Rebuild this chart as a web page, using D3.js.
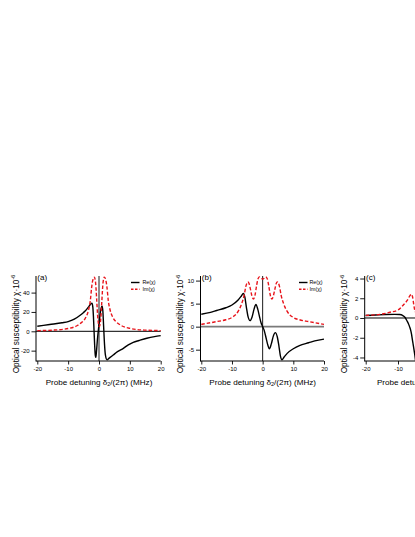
<!DOCTYPE html>
<html><head><meta charset="utf-8">
<script src="https://cdn.jsdelivr.net/npm/d3@7"></script>
<style>
body{margin:0;background:#fff}
svg{display:block;background:#fff}
text{font-family:"Liberation Sans",Arial,Helvetica,sans-serif;fill:#000}
</style>
</head><body><svg id="chart" width="415" height="537"></svg>
<script>
// ---------- data ----------
const xTickValues = [-20, -10, 0, 10, 20];
const yTicksA = [-20, 0, 20, 40];
const yTicksB = [-5, 0, 5, 10];
const yTicksC = [-4, -2, 0, 2, 4];
const panelLabels = ["(a)", "(b)", "(c)"];
const legendLabels = ["Re(\u03C7)", "Im(\u03C7)"];

// panel (a)
const reA_x = [-20,-16,-12,-10,-8,-6,-5,-4,-3.2,-2.6,-2.3,-2.0,-1.8,-1.6,-1.4,-1.2,-1.05,-0.85,-0.5,-0.1,0.3,0.7,1.0,1.25,1.5,1.8,2.1,2.6,3.2,4,4.6,6,7.9,9.5,11.1,13,15.5,18,20];
const reA_y = [5.2,7,8.8,10,12.5,16.8,19.5,22.7,26,28.5,29,25,15,0,-15,-25,-27,-22,-8,4,16,24,26,21,5,-14,-25,-29.5,-28,-26,-24.5,-21,-17.6,-14,-11.4,-9.5,-7.2,-5.5,-4.5];
const imA_x = [-20,-15,-10,-7,-5.5,-4.4,-3.4,-2.8,-2.4,-2.0,-1.5,-1.1,-0.7,-0.4,-0.1,0.1,0.3,0.6,0.9,1.3,1.7,2.2,2.6,3.0,3.6,4.6,5.7,7.2,10.2,15,20];
const imA_y = [0.7,1.2,2.9,6,9.5,13.7,22,32,45,53,56,50,30,14,6.5,5,6.5,14,30,50,56,53,45,32,22,13.7,9.5,6,2.9,1.2,0.7];

// panel (b)
const reB_x = [-20,-17,-15,-12,-10,-8,-7,-6.3,-5.8,-5.3,-4.8,-4.1,-3.5,-2.8,-2.2,-1.6,-1.1,-0.5,0,0.5,1.1,1.6,2.2,2.8,3.5,4.1,4.8,5.3,5.8,6.3,7,8,10,12,15,17,20];
const reB_y = [2.7,3.1,3.5,4.1,4.7,5.8,6.6,7.2,6.4,4.2,2.3,1.3,2.0,3.8,4.8,3.8,2.4,0.8,0,-0.8,-2.4,-3.8,-4.8,-3.8,-2.0,-1.3,-2.3,-4.2,-6.4,-7.2,-6.6,-5.8,-4.8,-4.1,-3.5,-3.1,-2.7];
const imB_x = [-20,-15,-12,-10,-8,-7,-6,-5.5,-5.1,-4.8,-4.4,-4,-3.5,-3,-2.5,-2,-1.5,-1,-0.5,0,0.5,1,1.5,2,2.5,3,3.5,4,4.4,4.8,5.1,5.5,6,7,8,10,12,15,20];
const imB_y = [0.5,1.1,1.5,2.0,3.3,4.7,6.9,8.7,9.5,9.7,9.3,8.2,6.7,6.0,6.8,8.8,10.4,10.8,10.5,10.3,10.5,10.8,10.4,8.8,6.8,6.0,6.7,8.2,9.3,9.7,9.5,8.7,6.9,4.7,3.3,2.0,1.5,1.1,0.5];

// panel (c)
const reC_x = [-20,-17,-14,-11,-9.5,-8.5,-7.8,-7.2,-6.8,-6.4,-6.1,-5.8,-5.6,-5.3,-5.1,-4.8,-4.5];
const reC_y = [0.25,0.3,0.35,0.37,0.35,0.25,0.05,-0.3,-0.55,-0.9,-1.2,-1.65,-2.1,-2.7,-3.1,-3.75,-4.5];
const imC_x = [-20,-17,-15.6,-12.5,-10,-8.4,-7.1,-6.3,-5.9,-5.5,-5.1,-4.7];
const imC_y = [0.27,0.32,0.37,0.58,0.81,1.3,1.8,2.26,2.4,2.15,1.3,0.6];

// ---------- layout ----------
const svg = d3.select("#chart");
const TOP = 276, BOT = 361;
const panels = [
  {label: panelLabels[0], axisX: 36, x0: 37.3, x1: 160.7, yDomain: [-30.7, 57.16], yTicks: yTicksA,
   re: [reA_x, reA_y], im: [imA_x, imA_y], zero: {color: "#000", width: 1}, vline: true,
   legend: {x: 131, y: 282.5, tx: 142.5}},
  {label: panelLabels[1], axisX: 200.5, x0: 201.3, x1: 324, yDomain: [-7.457, 11.0], yTicks: yTicksB,
   re: [reB_x, reB_y], im: [imB_x, imB_y], zero: {color: "#7a7a7a", width: 1.8}, vline: true,
   legend: {x: 299, y: 282.5, tx: 309.5}},
  {label: panelLabels[2], axisX: 364.7, x0: 365.7, x1: 494.9, yDomain: [-4.357, 4.255], yTicks: yTicksC,
   re: [reC_x, reC_y], im: [imC_x, imC_y], zero: {color: "#000", width: 1}, vline: false, legend: null}
];

panels.forEach((p, i) => {
  const g = svg.append("g");
  const x = d3.scaleLinear().domain([-20, 20]).range([p.x0, p.x1]);
  const y = d3.scaleLinear().domain(p.yDomain).range([BOT, TOP]);

  const clipId = "clip" + i;
  svg.append("clipPath").attr("id", clipId).append("rect")
    .attr("x", p.axisX).attr("y", TOP).attr("width", p.x1 - p.axisX + 0.5).attr("height", BOT - TOP);

  // zero line
  g.append("line").attr("x1", p.axisX).attr("x2", p.x1).attr("y1", y(0)).attr("y2", y(0))
    .attr("stroke", p.zero.color).attr("stroke-width", p.zero.width);
  if (p.vline) {
    g.append("line").attr("x1", x(0)).attr("x2", x(0)).attr("y1", TOP).attr("y2", BOT)
      .attr("stroke", "#000").attr("stroke-width", 0.9);
  }

  const line = d3.line().curve(d3.curveMonotoneX).x(d => x(d[0])).y(d => y(d[1]));
  const reData = p.re[0].map((v, k) => [v, p.re[1][k]]);
  const imData = p.im[0].map((v, k) => [v, p.im[1][k]]);
  const plot = g.append("g").attr("clip-path", `url(#${clipId})`);
  plot.append("path").datum(reData).attr("d", line).attr("fill", "none")
    .attr("stroke", "#000").attr("stroke-width", 1.4);
  plot.append("path").datum(imData).attr("d", line).attr("fill", "none")
    .attr("stroke", "#e8141b").attr("stroke-width", 1.4).attr("stroke-dasharray", "3.5,2");

  // axes
  const ya = d3.axisLeft(y).tickValues(p.yTicks).tickSize(4.5).tickPadding(1.8).tickFormat(d => String(d));
  const yg = g.append("g").attr("transform", `translate(${p.axisX},0)`).call(ya);
  yg.select(".domain").remove();
  yg.selectAll("text").style("font-size", "6px").attr("fill", "#222");
  yg.selectAll("line").attr("stroke", "#000").attr("stroke-width", 0.9);
  g.append("line").attr("x1", p.axisX).attr("x2", p.axisX).attr("y1", TOP).attr("y2", BOT + 0.5)
    .attr("stroke", "#000").attr("stroke-width", 1);

  const xa = d3.axisBottom(x).tickValues(xTickValues).tickSize(3.5).tickPadding(2.5).tickFormat(d => String(d));
  const xg = g.append("g").attr("transform", `translate(0,${BOT})`).call(xa);
  xg.select(".domain").remove();
  xg.selectAll("text").style("font-size", "6px").attr("fill", "#222");
  xg.selectAll("line").attr("stroke", "#000").attr("stroke-width", 0.9);
  g.append("line").attr("x1", p.axisX).attr("x2", p.x1).attr("y1", BOT).attr("y2", BOT)
    .attr("stroke", "#000").attr("stroke-width", 1);

  // panel label
  g.append("text").attr("x", p.axisX + 1.3).attr("y", 279.5).style("font-size", "8px").text(p.label);

  // y title
  const yt = g.append("text").attr("transform", `translate(${p.axisX - 17.5},324) rotate(-90)`)
    .attr("text-anchor", "middle").style("font-size", "8.3px");
  yt.append("tspan").text("Optical susceptibility \u03C7\u00B710");
  yt.append("tspan").attr("dy", -3.5).style("font-size", "5.5px").text("-6");

  // x title
  const xt = g.append("text").attr("x", (p.x0 + p.x1) / 2).attr("y", 384.5)
    .attr("text-anchor", "middle").style("font-size", "8.1px");
  xt.append("tspan").text("Probe detuning \u03B4");
  xt.append("tspan").attr("dy", 1.8).style("font-size", "5.5px").text("2");
  xt.append("tspan").attr("dy", -1.8).text("/(2\u03C0) (MHz)");

  // legend
  if (p.legend) {
    const L = p.legend;
    g.append("line").attr("x1", L.x).attr("x2", L.x + 8.5).attr("y1", L.y).attr("y2", L.y)
      .attr("stroke", "#000").attr("stroke-width", 1.4);
    g.append("line").attr("x1", L.x).attr("x2", L.x + 8.5).attr("y1", L.y + 6.8).attr("y2", L.y + 6.8)
      .attr("stroke", "#e8141b").attr("stroke-width", 1.4).attr("stroke-dasharray", "2.5,1.5");
    g.append("text").attr("x", L.tx).attr("y", L.y + 1.8).style("font-size", "5.3px").text(legendLabels[0]);
    g.append("text").attr("x", L.tx).attr("y", L.y + 8.6).style("font-size", "5.3px").text(legendLabels[1]);
  }
});
</script>
</body></html>
